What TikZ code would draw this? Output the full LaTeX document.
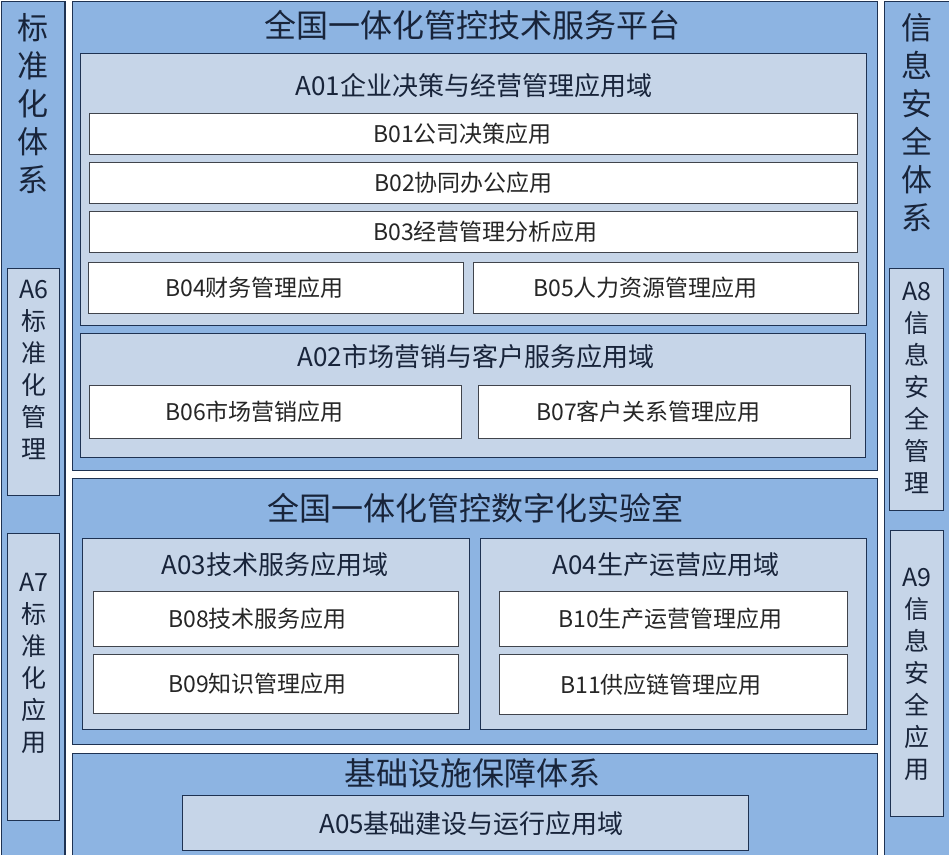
\documentclass[tikz,border=0pt]{standalone}
\usepackage{fontspec}
\setmainfont{Noto Sans CJK SC}
\usetikzlibrary{positioning}

\definecolor{PanelBlue}{RGB}{141,180,226}
\definecolor{PanelLight}{RGB}{198,213,232}
\definecolor{EdgeNavy}{RGB}{30,50,82}
\definecolor{EdgeGrey}{RGB}{64,68,76}
\definecolor{TextNavy}{RGB}{24,36,58}

\tikzset{
  wh/.style 2 args={minimum width=#1, minimum height=#2},
  panel/.style={draw=EdgeNavy, fill=PanelBlue, line width=1.4pt, anchor=north west, inner sep=0pt},
  appfield/.style={draw=EdgeNavy, fill=PanelLight, line width=1.2pt, anchor=north west, inner sep=0pt},
  app/.style={draw=EdgeGrey, fill=white, line width=1.2pt, anchor=north west, inner sep=0pt},
  apptext/.style={font=\fontsize{23}{26}\selectfont, text=black!85, inner sep=0pt},
  fieldtitle/.style={font=\fontsize{26}{30}\selectfont, text=TextNavy, inner sep=0pt},
  bigtitle/.style={font=\fontsize{32}{36}\selectfont, text=TextNavy, inner sep=0pt},
  coltitle/.style={font=\fontsize{31}{38}\selectfont, text=TextNavy, align=center, inner sep=0pt, anchor=north},
  sidetext/.style={font=\fontsize{25}{32}\selectfont, text=TextNavy, align=center, inner sep=0pt, anchor=north},
}

\begin{document}
\begin{tikzpicture}[x=1pt, y=-1pt]
    \useasboundingbox (0,0) rectangle (949,854);
    % side columns
    \node[panel, wh={63.5pt}{870pt}] (stdcol) at (0.7,0.7) {};
    \node[panel, wh={64.5pt}{870pt}] (seccol) at (884,0.7) {};
    \node[coltitle] (stdt) at (33,13) {标\\准\\化\\体\\系};
    \node[coltitle] (sect) at (917,13) {信\\息\\安\\全\\体\\系};
    \node[appfield, wh={52pt}{227pt}] (a6) at (7,268) {};
    \node[appfield, wh={52pt}{287pt}] (a7) at (7,533) {};
    \node[appfield, wh={54pt}{242pt}] (a8) at (889,268) {};
    \node[appfield, wh={53pt}{286pt}] (a9) at (890,530) {};
    \node[sidetext] (a6t) at (a6.north) [yshift=-12pt] {A6\\标\\准\\化\\管\\理};
    \node[sidetext] (a7t) at (a7.north) [yshift=-40pt] {A7\\标\\准\\化\\应\\用};
    \node[sidetext] (a8t) at (a8.north) [yshift=-14pt] {A8\\信\\息\\安\\全\\管\\理};
    \node[sidetext] (a9t) at (a9.north) [yshift=-38pt] {A9\\信\\息\\安\\全\\应\\用};

    % platform
    \node[panel, wh={805pt}{469.3pt}] (plat) at (72,0.7) {};
    \node[bigtitle] (platt) at (472,25) {全国一体化管控技术服务平台};
    \node[appfield, wh={786pt}{272pt}] (a01) at (80,53) {};
    \node[fieldtitle] (a01t) at (474,86) {A01企业决策与经营管理应用域};
    \node[app, wh={768pt}{41pt}] (b01) at (89,113) {};
    \node[app, wh={768pt}{41pt}] (b02) at (89,162) {};
    \node[app, wh={768pt}{41pt}] (b03) at (89,211) {};
    \node[app, wh={375pt}{51pt}] (b04) at (88,262) {};
    \node[app, wh={385pt}{51pt}] (b05) at (473,262) {};
    \node[apptext, right=284pt of b01.west] (b01t) {B01公司决策应用};
    \node[apptext, right=285pt of b02.west] (b02t) {B02协同办公应用};
    \node[apptext, right=284pt of b03.west] (b03t) {B03经营管理分析应用};
    \node[apptext, right=77pt of b04.west] (b04t) {B04财务管理应用};
    \node[apptext, right=60pt of b05.west] (b05t) {B05人力资源管理应用};
    \node[appfield, wh={785pt}{124pt}] (a02) at (80,333) {};
    \node[fieldtitle] (a02t) at (476,357) {A02市场营销与客户服务应用域};
    \node[app, wh={372pt}{53pt}] (b06) at (89,385) {};
    \node[app, wh={372pt}{53pt}] (b07) at (478,385) {};
    \node[apptext, right=76pt of b06.west] (b06t) {B06市场营销应用};
    \node[apptext, right=58pt of b07.west] (b07t) {B07客户关系管理应用};

    % laboratory
    \node[panel, wh={805pt}{266pt}] (lab) at (72,478) {};
    \node[bigtitle] (labt) at (475,508) {全国一体化管控数字化实验室};
    \node[appfield, wh={387pt}{191pt}] (a03) at (82,538) {};
    \node[appfield, wh={386pt}{191pt}] (a04) at (480,538) {};
    \node[fieldtitle] (a03t) at (275,565) {A03技术服务应用域};
    \node[fieldtitle] (a04t) at (666,565) {A04生产运营应用域};
    \node[app, wh={365pt}{55pt}] (b08) at (93,591) {};
    \node[app, wh={365pt}{59pt}] (b09) at (93,654) {};
    \node[app, wh={348pt}{55pt}] (b10) at (499,591) {};
    \node[app, wh={348pt}{60pt}] (b11) at (499,654) {};
    \node[apptext, right=75pt of b08.west] (b08t) {B08技术服务应用};
    \node[apptext, right=75pt of b09.west] (b09t) {B09知识管理应用};
    \node[apptext, right=59pt of b10.west] (b10t) {B10生产运营管理应用};
    \node[apptext, right=61pt of b11.west] (b11t) {B11供应链管理应用};

    % infrastructure
    \node[panel, wh={805pt}{110pt}] (infra) at (72,753) {};
    \node[bigtitle] (infrat) at (472,773) {基础设施保障体系};
    \node[appfield, wh={566pt}{55pt}, fieldtitle] (a05) at (182,795) {\hspace{12pt}A05基础建设与运行应用域};
\end{tikzpicture}
\end{document}
